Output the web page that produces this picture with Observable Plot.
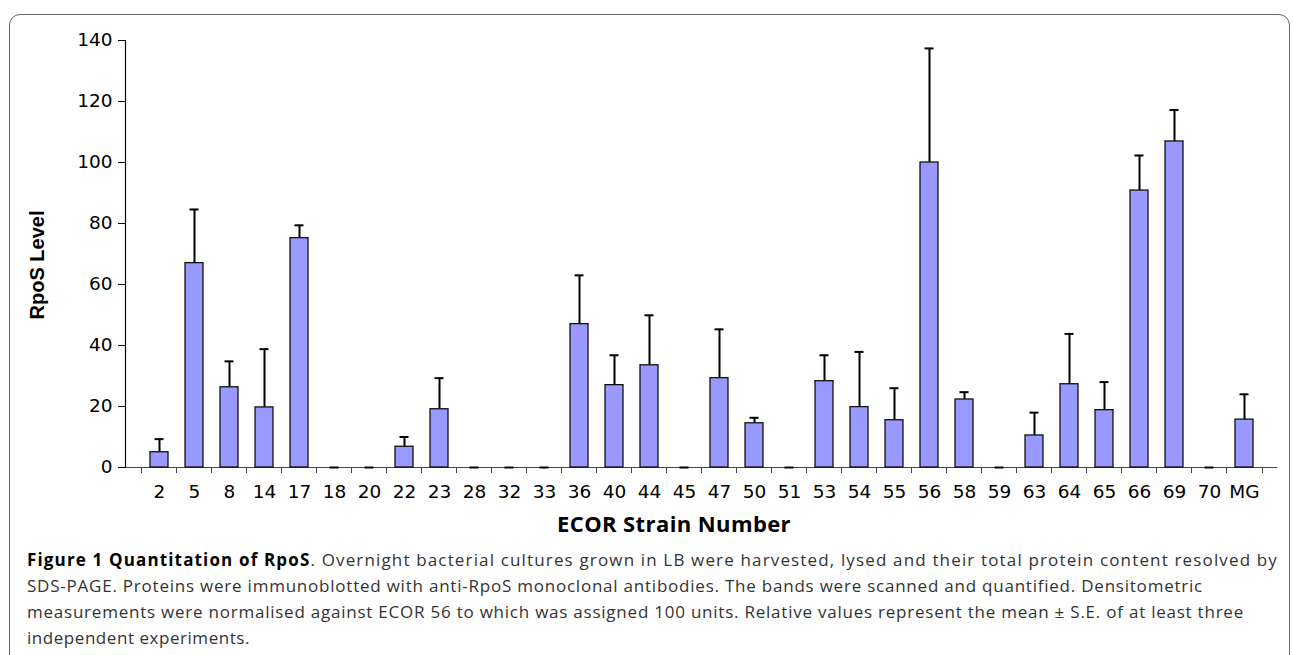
<!DOCTYPE html>
<html>
<head>
<meta charset="utf-8">
<script src="https://cdn.jsdelivr.net/npm/d3@7"></script>
<script src="https://cdn.jsdelivr.net/npm/@observablehq/plot@0.6"></script>
<style>
  html, body { margin: 0; padding: 0; background: #fff; }
  #wrap { position: relative; width: 1293px; height: 655px; overflow: hidden; }
  #frame { position: absolute; left: 9px; top: 14px; width: 1281px; height: 700px;
           border: 1px solid #666; border-radius: 11px; box-sizing: border-box; }
  #chart { position: absolute; left: 0; top: 0; }
  #chart svg text { font-family: "DejaVu Sans", sans-serif; font-size: 18.5px; fill: #000; }
  #ylab { position: absolute; left: 37px; top: 265px; transform: translate(-50%, -50%) rotate(-90deg);
          font-family: "Liberation Sans", Arial, sans-serif; font-weight: bold; font-size: 20px;
          white-space: nowrap; color: #000; }
  #xlab { position: absolute; left: 557px; top: 512px; font-family: "Open Sans", sans-serif;
          font-weight: bold; font-size: 22px; line-height: 22px; white-space: nowrap; color: #000; }
  .cap { position: absolute; left: 27px; font-family: "Open Sans", sans-serif; font-size: 17px;
         line-height: 26px; white-space: nowrap; color: #333; }
  .cap b { color: #000; font-weight: bold; }
</style>
</head>
<body>
<div id="wrap">
  <div id="frame"></div>
  <div id="chart"></div>
  <div id="ylab">RpoS Level</div>
  <div id="xlab">ECOR Strain Number</div>
  <div id="captions"></div>
</div>
<script>
// ---- data ----
const strains = ["2","5","8","14","17","18","20","22","23","28","32","33","36","40","44","45","47","50","51","53","54","55","56","58","59","63","64","65","66","69","70","MG"];
const levels  = [5.0,67.0,26.3,19.7,75.2,0,0,6.8,19.1,0,0,0,47.0,27.0,33.5,0,29.3,14.5,0,28.3,19.8,15.5,100,22.3,0,10.5,27.3,18.8,90.8,106.9,0,15.7];
const se      = [4.3,17.6,8.5,19.1,4.2,0,0,3.2,10.2,0,0,0,16.0,9.8,16.4,0,16.0,1.8,0,8.5,18.1,10.5,37.4,2.4,0,7.5,16.5,9.2,11.5,10.3,0,8.3];
const yTicks  = [0,20,40,60,80,100,120,140];
const captionLines = [
  ["Figure 1 Quantitation of RpoS", ". Overnight bacterial cultures grown in LB were harvested, lysed and their total protein content resolved by"],
  ["", "SDS-PAGE. Proteins were immunoblotted with anti-RpoS monoclonal antibodies. The bands were scanned and quantified. Densitometric"],
  ["", "measurements were normalised against ECOR 56 to which was assigned 100 units. Relative values represent the mean ± S.E. of at least three"],
  ["", "independent experiments."]
];
const captionWidths = [1251, 1176, 1217, 223];

const data = strains.map((s, i) => ({strain: s, level: levels[i], se: se[i]}));

const W = 1293, ML = 125, MR = 16;
const step = (W - ML - MR) / strains.length;

const chart = Plot.plot({
  width: W, height: 510,
  marginTop: 40, marginBottom: 43, marginLeft: ML, marginRight: MR,
  style: {fontFamily: "'DejaVu Sans', sans-serif", fontSize: "18.5px", color: "#000", background: "transparent", overflow: "visible"},
  x: {domain: strains, padding: 0.5, align: 0.5},
  y: {domain: [0, 140]},
  marks: [
    Plot.axisY({ticks: yTicks, tickSize: 7, tickPadding: 6, label: null, stroke: "#000"}),
    Plot.axisX({tickSize: 0, tickPadding: 17, label: null}),
    Plot.frame({anchor: "left", stroke: "#000", strokeWidth: 1.2}),
    Plot.ruleY([0], {stroke: "#444", strokeWidth: 1.2}),
    Plot.ruleX(strains, {x: d => d, y1: 0, y2: 0, insetBottom: -6, dx: -step / 2, stroke: "#444"}),
    Plot.ruleX(strains.slice(-1), {x: d => d, y1: 0, y2: 0, insetBottom: -6, dx: step / 2, stroke: "#444"}),
    Plot.ruleX(data.filter(d => d.se > 0), {x: "strain", y1: "level", y2: d => d.level + d.se, stroke: "#000", strokeWidth: 2}),
    Plot.tickY(data, {x: "strain", y: d => d.level + d.se, stroke: "#000", strokeWidth: 2, insetLeft: 13.5, insetRight: 13.5}),
    Plot.barY(data.filter(d => d.level > 0), {x: "strain", y: "level", fill: "#9999ff", stroke: "#111", strokeWidth: 1.3})
  ]
});
document.getElementById("chart").appendChild(chart);

// caption
const capBox = document.getElementById("captions");
captionLines.forEach((ln, i) => {
  const div = document.createElement("div");
  div.className = "cap";
  div.style.top = (547 + i * 26) + "px";
  if (ln[0]) { const b = document.createElement("b"); b.textContent = ln[0]; div.appendChild(b); }
  div.appendChild(document.createTextNode(ln[1]));
  capBox.appendChild(div);
  const w = div.getBoundingClientRect().width;
  const n = (ln[0] + ln[1]).length;
  const ls = (captionWidths[i] - w) / n;
  div.style.letterSpacing = ls + "px";
});
// fit x label width
const xl = document.getElementById("xlab");
const xw = xl.getBoundingClientRect().width;
xl.style.letterSpacing = ((234 - xw) / 18) + "px";
</script>
</body>
</html>
